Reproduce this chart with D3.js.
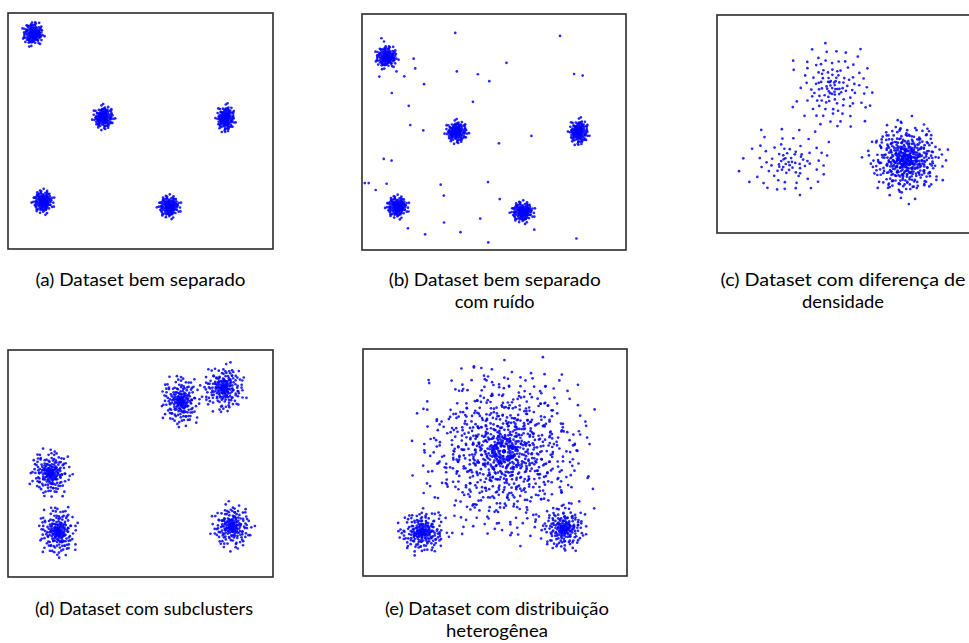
<!DOCTYPE html>
<html>
<head>
<meta charset="utf-8">
<script src="https://cdn.jsdelivr.net/npm/d3@7"></script>
<style>
  html, body { margin: 0; padding: 0; background: #fff; }
  svg { display: block; }
</style>
</head>
<body>
<svg id="chart" width="969" height="643"></svg>
<script>
// ---------------- DATA ----------------
const captions = [
  ["(a) Dataset bem separado"],
  ["(b) Dataset bem separado", "com ruído"],
  ["(c) Dataset com diferença de", "densidade"],
  ["(d) Dataset com subclusters"],
  ["(e) Dataset com distribuição", "heterogênea"]
];

// Typed unit-scale sample offsets, reused for all clusters
const sampleOffsets = [
[0.12,-0.45],[-1.03,0.27],[0.66,1.21],[-0.38,-0.92],[1.45,-0.18],[-0.07,0.54],[0.89,-1.12],[-1.62,-0.41],[0.31,0.08],[-0.55,1.37],
[1.08,0.63],[-0.21,-1.58],[0.47,-0.29],[-1.19,0.94],[0.03,-0.06],[1.77,0.35],[-0.84,-0.17],[0.58,-1.86],[-0.42,0.21],[0.95,0.97],
[-1.41,-1.07],[0.24,1.68],[-0.66,-0.63],[1.32,-0.77],[-0.13,0.88],[0.71,0.14],[-1.88,0.22],[0.39,-1.23],[-0.92,1.62],[1.16,-0.41],
[-0.29,-0.33],[0.18,2.05],[-1.27,-0.24],[0.83,-0.58],[-0.49,0.67],[2.12,0.49],[-0.74,-1.41],[0.05,0.31],[1.51,1.15],[-1.06,0.48],
[0.34,-0.81],[-0.18,1.12],[0.97,-1.47],[-1.55,0.77],[0.62,0.42],[-0.36,-2.01],[1.24,0.21],[-0.88,0.09],[0.15,-0.68],[-2.14,-0.52],
[0.77,1.53],[-0.61,0.36],[1.92,-0.94],[-0.09,-1.04],[0.43,0.73],[-1.34,1.28],[1.03,-0.12],[-0.26,0.05],[0.55,-2.22],[-0.97,-0.86],
[1.61,0.82],[-0.46,1.86],[0.27,-0.39],[-1.73,-0.03],[0.86,0.39],[-0.14,-0.74],[1.38,-1.38],[-0.79,0.58],[0.09,1.44],[-1.12,-1.69],
[0.68,-0.05],[-0.33,0.99],[2.31,-0.27],[-0.57,-0.49],[0.21,0.61],[-1.48,0.41],[1.12,1.42],[-0.02,-1.31],[0.51,0.26],[-0.91,-0.31],
[1.69,-0.57],[-0.24,1.57],[0.79,-0.96],[-1.97,0.86],[0.36,-0.15],[-0.69,-1.13],[1.27,0.58],[-0.11,0.43],[0.93,1.88],[-1.36,-0.69],
[0.16,-1.71],[-0.52,0.14],[1.49,0.04],[-0.83,1.09],[0.61,-0.51],[-2.37,-0.18],[0.29,0.95],[-0.43,-0.21],[1.85,1.07],[-1.21,0.19],
[0.48,-1.52],[-0.16,0.71],[1.06,-0.83],[-0.72,-0.93],[0.07,2.34],[-1.58,1.51],[0.74,0.68],[-0.31,-1.17],[2.02,0.29],[-0.98,-0.45],
[0.41,0.17],[-0.06,-0.42],[1.18,1.04],[-1.09,-1.98],[0.58,1.01],[-0.64,0.87],[1.41,-1.12],[-0.39,0.32],[0.22,-0.97],[-1.31,0.63]
];
// Typed per-copy radial scales so repeated samples do not stack into rings
const copyScales = [1.0, 0.82, 1.13, 0.91, 1.07, 0.76, 1.19, 0.96, 1.03];

// Clusters per panel: [centerX, centerY, spreadX, spreadY, count] in data units (0-100)
const clustersA = [
  [8.9, 91.8, 1.7, 2.1, 160],
  [35.8, 55.9, 1.7, 2.1, 160],
  [82.6, 55.5, 1.5, 2.4, 160],
  [12.8, 19.5, 1.7, 2.1, 160],
  [61.1, 17.4, 1.8, 2.0, 160]
];
const clustersB = [
  [8.7, 82.2, 1.8, 2.0, 160],
  [35.6, 50.1, 1.8, 2.0, 160],
  [82.6, 50.1, 1.6, 2.3, 160],
  [12.9, 17.7, 1.8, 2.0, 160],
  [61.1, 15.5, 1.9, 1.9, 160]
];
const noiseB = [
  [35.1,92.7],[75.4,91.4],[6.7,90.4],[7.7,89.0],[19.1,81.6],[19.7,77.4],[54.8,79.8],[12.5,76.1],
  [35.7,76.1],[43.8,74.9],[80.8,75.0],[84.1,74.3],[5.9,73.9],[15.5,74.0],[48.2,71.9],[23.1,70.6],
  [10.7,66.8],[41.9,63.0],[17.2,61.3],[17.8,53.0],[22.8,50.7],[64.4,48.3],[51.9,45.1],[7.6,38.4],
  [10.6,37.7],[0.3,28.0],[1.8,28.0],[4.5,25.0],[8.7,27.7],[29.5,27.3],[47.7,28.4],[30.7,22.6],
  [52.2,21.1],[44.7,12.7],[30.8,11.0],[16.9,8.5],[65.5,7.9],[23.5,5.9],[37.1,6.8],[81.7,4.1],[47.8,2.4]
];
const clustersC = [
  [43.4, 67.0, 6.5, 8.6, 120],
  [26.8, 32.1, 7.4, 7.0, 80],
  [71.7, 33.5, 5.6, 6.8, 480]
];
const clustersD = [
  [65.5, 78.0, 3.2, 4.8, 200],
  [81.9, 83.8, 3.5, 4.4, 200],
  [15.6, 45.7, 3.3, 4.4, 200],
  [18.4, 19.5, 3.1, 4.8, 200],
  [85.0, 21.7, 3.3, 4.2, 190]
];
const clustersE = [
  [53.5, 55.0, 12.6, 14.8, 1000],
  [22.1, 18.8, 3.8, 4.1, 210],
  [76.5, 20.3, 3.6, 4.2, 190]
];

// ---------------- LAYOUT ----------------
const panels = [
  { box: [8, 13, 273, 249],  clusters: clustersA, noise: [] },
  { box: [362, 14, 626, 250], clusters: clustersB, noise: noiseB },
  { box: [717, 15, 982, 233], clusters: clustersC, noise: [] },
  { box: [8, 350, 273, 577], clusters: clustersD, noise: [] },
  { box: [363, 349, 627, 576], clusters: clustersE, noise: [] }
];
const captionLayout = [
  { cx: 140.5, y: 286, widths: [210] },
  { cx: 494.7, y: 286, widths: [212, 80] },
  { cx: 843.0, y: 286, widths: [245, 82] },
  { cx: 144.0, y: 615, widths: [218] },
  { cx: 497.0, y: 615, widths: [224, 102] }
];
const lineGap = 21.5;

function clusterPoints(c) {
  const [cx, cy, sx, sy, n] = c;
  const S = sampleOffsets.length;
  const pts = [];
  for (let i = 0; i < n; i++) {
    const copy = Math.floor(i / S);
    const [ox, oy] = sampleOffsets[(i + copy * 37) % S];
    const r = Math.hypot(ox, oy);
    const f = (r > 0 ? Math.pow(r / 1.5, 0.3) : 0) * copyScales[copy % copyScales.length];
    const a = copy * 2.39996 + cx * 0.13;
    const rx = (ox * Math.cos(a) - oy * Math.sin(a)) * f;
    const ry = (ox * Math.sin(a) + oy * Math.cos(a)) * f;
    pts.push([cx + rx * sx, cy + ry * sy]);
  }
  return pts;
}

const svg = d3.select("#chart");

panels.forEach((p, idx) => {
  const [x0, y0, x1, y1] = p.box;
  const x = d3.scaleLinear().domain([0, 100]).range([x0 + 2, x1 - 2]);
  const y = d3.scaleLinear().domain([0, 100]).range([y1 - 2, y0 + 2]);
  const g = svg.append("g");

  let pts = [];
  p.clusters.forEach(c => { pts = pts.concat(clusterPoints(c)); });
  pts = pts.concat(p.noise);

  g.selectAll("circle").data(pts).join("circle")
    .attr("cx", d => x(d[0]))
    .attr("cy", d => y(d[1]))
    .attr("r", 1.35)
    .attr("fill", "#0000ff")
    .attr("fill-opacity", 0.85);

  g.append("rect")
    .attr("x", x0).attr("y", y0)
    .attr("width", x1 - x0).attr("height", y1 - y0)
    .attr("fill", "none")
    .attr("stroke", "#2a2a2a")
    .attr("stroke-width", 1.6);

  const cl = captionLayout[idx];
  captions[idx].forEach((line, li) => {
    svg.append("text")
      .attr("x", cl.cx)
      .attr("y", cl.y + li * lineGap)
      .attr("text-anchor", "middle")
      .attr("font-family", "Lato, 'Open Sans', sans-serif")
      .attr("font-size", 16.5)
      .attr("fill", "#000")
      .attr("textLength", cl.widths[li])
      .attr("lengthAdjust", "spacingAndGlyphs")
      .text(line);
  });
});
</script>
</body>
</html>
